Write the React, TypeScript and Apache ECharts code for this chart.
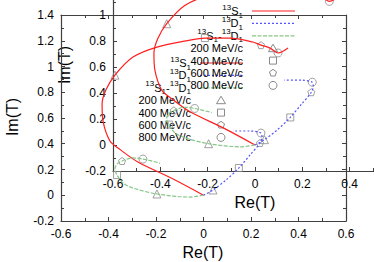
import React, { useEffect, useRef } from 'react';
import * as echarts from 'echarts';

// ---- data (Re(T), Im(T)) ----
const s1Curve: number[][] = [
  [0, 0], [-0.128, 0.126], [-0.276, 0.258], [-0.36, 0.367], [-0.394, 0.421],
  [-0.423, 0.576], [-0.427, 0.708], [-0.411, 0.817], [-0.373, 0.933],
  [-0.297, 1.073], [-0.196, 1.151], [-0.057, 1.205], [0.006, 1.221],
  [0.112, 1.221], [0.208, 1.19], [0.242, 1.166], [0.28, 1.143],
  [0.314, 1.105], [0.356, 1.144],
];
const d1Curve: number[][] = [
  [0, 0], [0.04, 0.041], [0.095, 0.118], [0.149, 0.212], [0.196, 0.313],
  [0.238, 0.406], [0.246, 0.452], [0.242, 0.483], [0.196, 0.499], [0.124, 0.499],
];
const sdCurve: number[][] = [
  [0, 0], [-0.057, -0.014], [-0.196, 0.01], [-0.297, 0.056], [-0.339, 0.095],
  [-0.364, 0.157], [-0.373, 0.204], [-0.364, 0.243], [-0.343, 0.266],
  [-0.297, 0.29], [-0.255, 0.281], [-0.183, 0.25],
];
const momentumLabels = ['200 MeV/c', '400 MeV/c', '600 MeV/c', '800 MeV/c'];
const s1Marks: number[][] = [[-0.373, 0.933], [0.006, 1.221], [0.242, 1.166], [0.314, 1.105]];
const d1Marks: number[][] = [[0.04, 0.041], [0.149, 0.212], [0.238, 0.406], [0.242, 0.483]];
const sdMarks: number[][] = [[-0.196, 0.01], [-0.364, 0.157], [-0.343, 0.266], [-0.255, 0.281]];
const curveLabels = ['{sup|13}{b|S}{sub|1}', '{sup|13}{b|D}{sub|1}', '{sup|13}{b|S}{sub|1}{b|-}{sup|13}{b|D}{sub|1}'];
const xRange = [-0.6, 0.6];
const yRange = [-0.2, 1.4];
const tickStep = 0.2;

const FONT = '"Liberation Sans", Arial, Helvetica, sans-serif';
const C = { s1: '#ff1f1f', d1: '#5555ff', sd: '#86c686', mk: '#8a8a8a', ax: '#404040' };
const PENT = 'path://M0,-10L9.51,-3.09L5.88,8.09L-5.88,8.09L-9.51,-3.09Z';
const symbols = ['triangle', 'rect', PENT, 'circle'];
const symSizes = [8, 7, 7, 8];

const panels = [
  { left: 61, top: 15, width: 285, height: 206 },
  { left: 113, top: -37, width: 284, height: 208 },
];

const fmt = (v: number) => {
  const r = Math.round(v * 10) / 10;
  return r === 0 ? '0' : String(r);
};

const rich = {
  b: { fontSize: 11, fontFamily: FONT, fill: '#000', verticalAlign: 'middle', lineHeight: 16 },
  sup: { fontSize: 8, fontFamily: FONT, fill: '#000', verticalAlign: 'top', lineHeight: 9 },
  sub: { fontSize: 8, fontFamily: FONT, fill: '#000', verticalAlign: 'bottom', lineHeight: 9 },
};

function buildOption() {
  const xAxis: any[] = [];
  const yAxis: any[] = [];
  const series: any[] = [];
  const graphic: any[] = [];
  const axisCommon = (gridIndex: number, position: string, labels: boolean, range: number[]) => ({
    type: 'value', gridIndex, position, min: range[0], max: range[1], interval: tickStep,
    axisLine: { show: true, onZero: false, lineStyle: { color: C.ax, width: 1.2 } },
    axisTick: { show: true, inside: true, length: 4, lineStyle: { color: C.ax, width: 1 } },
    minorTick: { show: true, splitNumber: 2, length: 3, lineStyle: { color: C.ax, width: 1 } },
    splitLine: { show: false },
    axisLabel: labels
      ? { show: true, color: '#000', fontSize: 12, fontFamily: FONT, margin: 7, formatter: fmt, showMinLabel: true, showMaxLabel: true }
      : { show: false },
  });
  panels.forEach((p, k) => {
    xAxis.push(axisCommon(k, 'bottom', true, xRange));
    xAxis.push(axisCommon(k, 'top', false, xRange));
    yAxis.push(axisCommon(k, 'left', true, yRange));
    yAxis.push(axisCommon(k, 'right', false, yRange));
    const xi = 2 * k;
    const yi = 2 * k;
    const line = (data: number[][], color: string, type: any) => ({
      type: 'line', xAxisIndex: xi, yAxisIndex: yi, data, symbol: 'none', showSymbol: false,
      smooth: 0.3, silent: true, lineStyle: { color, width: 1.2, type },
    });
    series.push(line(s1Curve, C.s1, 'solid'));
    series.push(line(d1Curve, C.d1, [2, 2]));
    series.push(line(sdCurve, C.sd, [4, 1.5]));
    momentumLabels.forEach((m, i) => {
      series.push({
        type: 'scatter', name: m, xAxisIndex: xi, yAxisIndex: yi, symbol: symbols[i], symbolSize: symSizes[i],
        silent: true, data: [s1Marks[i], d1Marks[i], sdMarks[i]],
        itemStyle: { color: 'transparent', borderColor: C.mk, borderWidth: 1 },
      });
    });
    // axis titles
    graphic.push({
      type: 'text', x: p.left + 142, y: p.top + p.height + 31, silent: true,
      style: { text: 'Re(T)', font: `16px ${FONT}`, fill: '#000', align: 'center', verticalAlign: 'middle', textAlign: 'center', textVerticalAlign: 'middle' },
    });
    graphic.push({
      type: 'text', x: p.left - 49, y: p.top + 102, rotation: Math.PI / 2, silent: true,
      style: { text: 'Im(T)', font: `16px ${FONT}`, fill: '#000', align: 'center', verticalAlign: 'middle', textAlign: 'center', textVerticalAlign: 'middle' },
    });
    // legend
    const tr = p.left + 130;
    const row0 = p.top + 48;
    const dy = 12.4;
    const lineColors = [C.s1, C.d1, C.sd];
    const lineTypes: any[] = ['solid', [2, 2], [4, 1.5]];
    curveLabels.forEach((lab, i) => {
      const y = row0 + i * dy;
      graphic.push({
        type: 'text', x: tr, y, silent: true,
        style: { text: lab, rich, font: `11px ${FONT}`, fill: '#000', align: 'right', verticalAlign: 'middle', textAlign: 'right', textVerticalAlign: 'middle' },
      });
      graphic.push({
        type: 'line', silent: true, shape: { x1: tr + 9, y1: y, x2: tr + 52, y2: y },
        style: { stroke: lineColors[i], lineWidth: 1.2, lineDash: lineTypes[i] === 'solid' ? null : lineTypes[i] },
      });
    });
    momentumLabels.forEach((lab, i) => {
      const y = row0 + (i + 3) * dy;
      const cx = tr + 30;
      graphic.push({
        type: 'text', x: tr, y, silent: true,
        style: { text: lab, font: `11px ${FONT}`, fill: '#000', align: 'right', verticalAlign: 'middle', textAlign: 'right', textVerticalAlign: 'middle' },
      });
      const st = { fill: 'none', stroke: C.mk, lineWidth: 1 };
      if (i === 0) {
        graphic.push({ type: 'polygon', silent: true, shape: { points: [[cx, y - 4], [cx + 4.5, y + 3.5], [cx - 4.5, y + 3.5]] }, style: st });
      } else if (i === 1) {
        graphic.push({ type: 'rect', silent: true, shape: { x: cx - 3.5, y: y - 3.5, width: 7, height: 7 }, style: st });
      } else if (i === 2) {
        const pts: number[][] = [];
        for (let j = 0; j < 5; j++) {
          const a = -Math.PI / 2 + (j * 2 * Math.PI) / 5;
          pts.push([cx + 3.7 * Math.cos(a), y + 3.7 * Math.sin(a)]);
        }
        graphic.push({ type: 'polygon', silent: true, shape: { points: pts }, style: st });
      } else {
        graphic.push({ type: 'circle', silent: true, shape: { cx, cy: y, r: 4 }, style: st });
      }
    });
  });
  return {
    animation: false,
    backgroundColor: '#fff',
    grid: panels.map((p) => ({ ...p, containLabel: false, outerBoundsMode: 'none' })),
    xAxis,
    yAxis,
    series,
    graphic,
  };
}

export default function App() {
  const ref = useRef<HTMLDivElement>(null);
  useEffect(() => {
    if (!ref.current) return;
    const chart = echarts.init(ref.current, undefined, { renderer: 'svg' });
    chart.setOption(buildOption() as any);
    return () => chart.dispose();
  }, []);
  return (
    <div
      ref={ref}
      style={{ position: 'absolute', left: 0, top: 0, width: 374, height: 262, overflow: 'hidden' }}
    />
  );
}
